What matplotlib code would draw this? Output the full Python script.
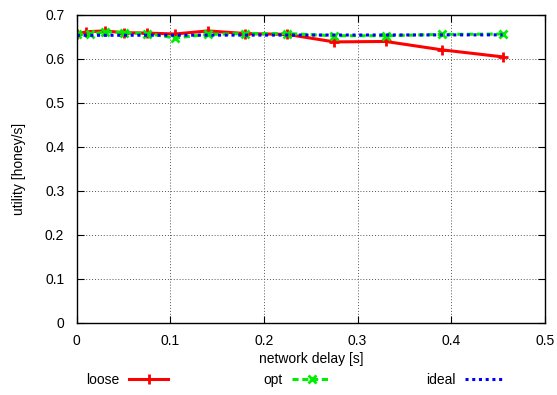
import matplotlib
matplotlib.use("Agg")
import matplotlib.pyplot as plt

plt.rcParams["font.family"] = ["Liberation Sans", "DejaVu Sans"]

delay = [0, 0.01, 0.03, 0.05, 0.075, 0.105, 0.14, 0.18, 0.225, 0.275, 0.33, 0.39, 0.455]
loose = [0.655, 0.661, 0.663, 0.659, 0.658, 0.656, 0.663, 0.657, 0.655, 0.638, 0.639, 0.620, 0.604]

delay_opt = [0, 0.014, 0.03, 0.05, 0.075, 0.105, 0.14, 0.18, 0.225, 0.275, 0.33, 0.39, 0.455]
opt = [0.656, 0.655, 0.661, 0.659, 0.657, 0.647, 0.655, 0.657, 0.657, 0.652, 0.652, 0.655, 0.656]

delay_ideal = [0, 0.455]
ideal = [0.653, 0.654]

fig = plt.figure(figsize=(5.57, 3.95), dpi=100)
ax = fig.add_axes([0.138, 0.183, 0.840, 0.780])

ax.plot(delay, loose, color="#ff0000", linewidth=2.2, marker="+", markersize=7,
        markeredgewidth=2, label="loose")
ax.plot(delay_opt, opt, color="#00ee00", linewidth=2.2, linestyle=(0, (2, 1.2)),
        marker="x", markersize=6, markeredgewidth=2, label="opt")
ax.plot(delay_ideal, ideal, color="#0000ff", linewidth=2.2, linestyle=(0, (1, 1.2)),
        label="ideal")

ax.set_xlim(0, 0.5)
ax.set_ylim(0, 0.7)
ax.set_xticks([0, 0.1, 0.2, 0.3, 0.4, 0.5])
ax.set_xticklabels(["0", "0.1", "0.2", "0.3", "0.4", "0.5"])
ax.set_yticks([0, 0.1, 0.2, 0.3, 0.4, 0.5, 0.6, 0.7])
ax.set_yticklabels(["0", "0.1", "0.2", "0.3", "0.4", "0.5", "0.6", "0.7"])
ax.tick_params(direction="in", top=True, right=True, labelsize=10, length=5)
ax.tick_params(axis="y", pad=9)
ax.tick_params(axis="x", pad=8)
ax.grid(True, color="#555555", linestyle=(0, (1, 2)), linewidth=0.7)
for s in ax.spines.values():
    s.set_linewidth(1.0)

ax.set_xlabel("network delay [s]", fontsize=10, labelpad=3)
ax.set_ylabel("utility [honey/s]", fontsize=10, labelpad=14)

fig.legend(loc="lower center", bbox_to_anchor=(0.53, -0.012), ncol=3, markerfirst=False,
           frameon=False, fontsize=10, columnspacing=6.85, handlelength=2.8,
           handletextpad=0.7)

fig.savefig("out.png", dpi=100)
